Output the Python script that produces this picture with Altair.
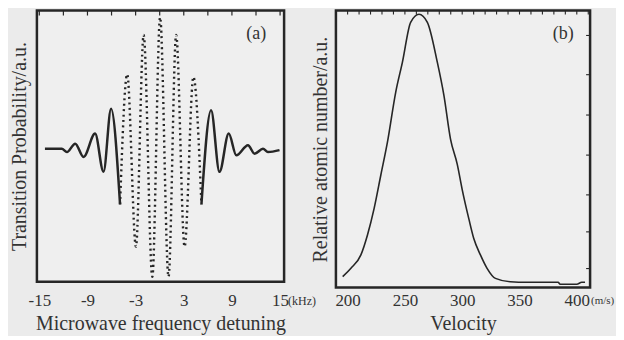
import altair as alt
import pandas as pd

# ---------------- Panel (a): Ramsey fringes (extrema) ----------------
freq_khz = [-14.3, -12.2, -11.56, -10.53, -9.49, -8.05, -7.0, -6.06, -4.94, -4.05,
            -2.96, -2.0, -0.92, 0.05, 1.1, 2.05, 3.1, 4.2, 5.2, 6.4,
            7.45, 8.6, 9.55, 11.0, 11.83, 12.87, 13.49, 14.93]
prob_au = [0.49, 0.49, 0.478, 0.509, 0.46, 0.546, 0.405, 0.638, 0.285, 0.765,
           0.129, 0.91, 0.018, 0.975, 0.018, 0.91, 0.129, 0.755, 0.285, 0.632,
           0.405, 0.546, 0.466, 0.503, 0.472, 0.49, 0.478, 0.485]
xticks_a = [-15, -9, -3, 3, 9, 15]
top_ticks_a = [-15, -12, -9, -6, -3, 0, 3, 6, 9, 12, 15]

# ---------------- Panel (b): velocity distribution ----------------
velocity = [195.7, 202.9, 211.6, 217.4, 223.1, 229.0, 234.8, 242.0, 247.8, 255.0,
            262.3, 269.6, 278.3, 284.0, 289.8, 295.7, 300.0, 305.7, 310.1, 315.9,
            321.7, 329.0, 342.0, 356.5, 383.7, 385.5, 400.0, 404.3, 407.2]
atoms = [0.039, 0.069, 0.117, 0.189, 0.282, 0.402, 0.520, 0.698, 0.804, 0.947,
         0.976, 0.947, 0.804, 0.687, 0.530, 0.440, 0.350, 0.247, 0.175, 0.117,
         0.069, 0.033, 0.021, 0.019, 0.019, 0.012, 0.012, 0.019, 0.019]
xticks_b = [200, 250, 300, 350, 400]
top_ticks_b = [190, 200, 210, 220, 230, 240, 250, 260, 270, 280, 290, 300,
               310, 320, 330, 340, 350, 360, 370, 380, 390, 400, 410]
right_ticks_b = [0.068, 0.199, 0.331, 0.473, 0.616, 0.76, 0.90]

FONT = "Liberation Serif"
INK = "#262626"
TXT = "#333333"
BG = "#ebebeb"

# build table for panel (a): outer parts solid, central part dotted
inner_lo, inner_hi = -4.94, 5.2
rows = []
for f, p in zip(freq_khz, prob_au):
    if f <= inner_lo:
        rows.append({"freq": f, "prob": p, "seg": "left"})
    if f >= inner_hi:
        rows.append({"freq": f, "prob": p, "seg": "right"})
df_a = pd.DataFrame(rows)
df_a_mid = pd.DataFrame([{"freq": f, "prob": p} for f, p in zip(freq_khz, prob_au)
                         if inner_lo <= f <= inner_hi])

WA, HA = 248, 272
WB, HB = 255, 278

xa = alt.X("freq:Q",
           scale=alt.Scale(domain=[-15.3, 15.5], nice=False, zero=False),
           axis=alt.Axis(values=xticks_a, title="Microwave frequency detuning",
                         labelExpr="'' + datum.value", ticks=False, domain=False,
                         grid=False, labelPadding=11, titlePadding=5,
                         labelFlush=False))
ya = alt.Y("prob:Q", scale=alt.Scale(domain=[0, 1], nice=False),
           axis=alt.Axis(title="Transition Probability/a.u.", labels=False,
                         ticks=False, domain=False, grid=False, titlePadding=7))

solid_a = alt.Chart(df_a).mark_line(interpolate="monotone", color=INK,
                                    strokeWidth=2.5).encode(x=xa, y=ya, detail="seg:N")
dotted_a = alt.Chart(df_a_mid).mark_line(interpolate="monotone", color=INK,
                                         strokeWidth=2.4, strokeDash=[2, 3.5]).encode(x=xa, y=ya)
ticks_a = alt.Chart(pd.DataFrame({"freq": top_ticks_a})).mark_rule(
    color=INK, strokeWidth=1.2).encode(x=xa, y=alt.value(0), y2=alt.value(5))
lab_a = alt.Chart(pd.DataFrame({"t": ["(a)"]})).mark_text(
    font=FONT, fontSize=18, color=TXT).encode(x=alt.value(220), y=alt.value(24), text="t:N")
unit_a = alt.Chart(pd.DataFrame({"t": ["(kHz)"]})).mark_text(
    font=FONT, fontSize=12, color=TXT, align="left", baseline="middle").encode(
    x=alt.value(252), y=alt.value(291), text="t:N")

panel_a = alt.layer(solid_a, dotted_a, ticks_a, lab_a, unit_a).properties(width=WA, height=HA)

df_b = pd.DataFrame({"vel": velocity, "atoms": atoms})
xb = alt.X("vel:Q",
           scale=alt.Scale(domain=[189.8, 411.6], nice=False, zero=False),
           axis=alt.Axis(values=xticks_b, title="Velocity", ticks=False, domain=False,
                         grid=False, labelPadding=5, titlePadding=5, labelFlush=False))
yb = alt.Y("atoms:Q", scale=alt.Scale(domain=[0, 0.989], nice=False),
           axis=alt.Axis(title="Relative atomic number/a.u.", labels=False,
                         ticks=False, domain=False, grid=False, titlePadding=5))

line_b = alt.Chart(df_b).mark_line(interpolate="monotone", color=INK,
                                   strokeWidth=1.6).encode(x=xb, y=yb)
ticks_b = alt.Chart(pd.DataFrame({"vel": top_ticks_b})).mark_rule(
    color=INK, strokeWidth=1.1).encode(x=xb, y=alt.value(0), y2=alt.value(4))
rticks_b = alt.Chart(pd.DataFrame({"atoms": right_ticks_b})).mark_rule(
    color=INK, strokeWidth=1.1).encode(y=yb, x=alt.value(WB - 4), x2=alt.value(WB))
lab_b = alt.Chart(pd.DataFrame({"t": ["(b)"]})).mark_text(
    font=FONT, fontSize=18, color=TXT).encode(x=alt.value(228), y=alt.value(24), text="t:N")
unit_b = alt.Chart(pd.DataFrame({"t": ["(m/s)"]})).mark_text(
    font=FONT, fontSize=11, color=TXT, align="left", baseline="middle").encode(
    x=alt.value(256), y=alt.value(291), text="t:N")

panel_b = alt.layer(line_b, ticks_b, rticks_b, lab_b, unit_b).properties(width=WB, height=HB)

chart = alt.hconcat(panel_a, panel_b, spacing=52, bounds="flush").properties(
    background=BG, padding=0
).configure_view(
    stroke=INK, strokeWidth=2.5, fill="#efefef"
).configure_axis(
    labelFont=FONT, titleFont=FONT, labelFontSize=17, titleFontSize=20,
    labelColor=TXT, titleColor=TXT, titleFontWeight="normal"
)

chart.save("out.html", embed_options={"renderer": "svg", "actions": False})
